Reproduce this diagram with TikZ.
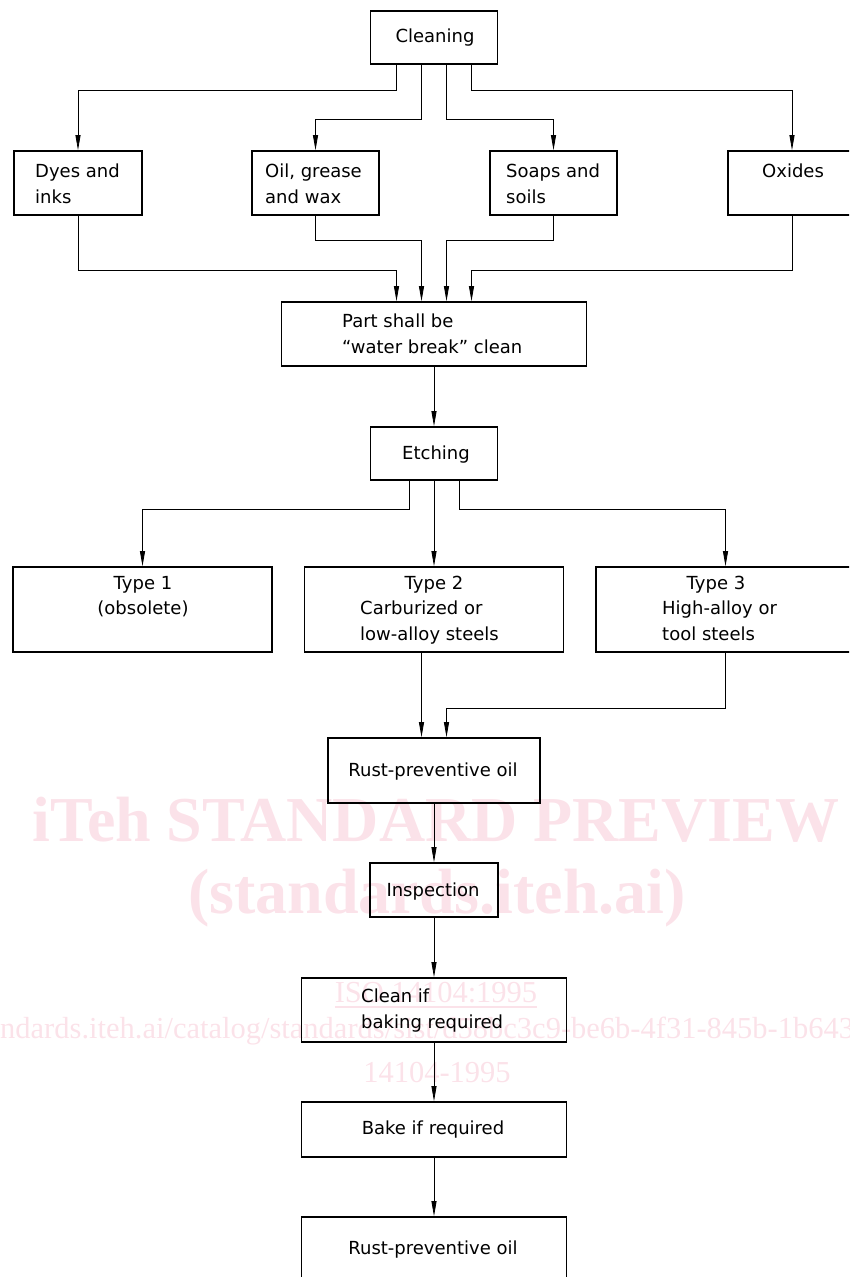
\documentclass[tikz,border=0pt]{standalone}
\usepackage{fontspec}
\setmainfont{DejaVu Sans}
\newfontfamily\wmfont{Liberation Serif}
\usetikzlibrary{arrows.meta}
\definecolor{wm}{RGB}{251,226,233}
\begin{document}
\begin{tikzpicture}[x=1pt,y=-1pt,
  box/.style={draw, line width=1.6pt, inner sep=0pt},
  lbl/.style={inner sep=0pt, font=\fontsize{18}{22}\selectfont},
  arr/.style={draw, line width=0.8pt, -{Triangle[length=15pt,width=5pt]}},
  wmbig/.style={inner sep=0pt, text=wm, font=\wmfont\bfseries\fontsize{64}{70}\selectfont},
  wmsmall/.style={inner sep=0pt, text=wm, font=\wmfont\fontsize{30.5}{34}\selectfont}]
\clip (0,0) rectangle (849,1277);
% watermark
\node[wmbig, anchor=base] (wm1) at (436,841) {iTeh STANDARD PREVIEW};
\node[wmbig, anchor=base] (wm2) at (437,913) {(standards.iteh.ai)};
\node[wmsmall, anchor=base] (wm3) at (436,1002) {ISO 14104:1995};
\draw[wm, line width=1.2pt] (wm3.west |- 0,1007) -- (wm3.east |- 0,1007);
\node[wmsmall, anchor=base west] (wm4) at (0,1038) {ndards.iteh.ai/catalog/standards/sist/d58bc3c9-be6b-4f31-845b-1b643};
\node[wmsmall, anchor=base] (wm5) at (437,1082) {14104-1995};
% boxes
\node[box, minimum width=127pt, minimum height=53pt] (clean) at (434,37.5) {};
\node[box, minimum width=128pt, minimum height=64pt] (dyes) at (78,183) {};
\node[box, minimum width=127pt, minimum height=64pt] (oil) at (315.5,183) {};
\node[box, minimum width=127pt, minimum height=64pt] (soaps) at (553.5,183) {};
\node[box, minimum width=128pt, minimum height=64pt] (oxides) at (792,183) {};
\node[box, minimum width=305pt, minimum height=64pt] (part) at (434,334) {};
\node[box, minimum width=127pt, minimum height=53pt] (etch) at (434,453.5) {};
\node[box, minimum width=259pt, minimum height=85pt] (type1) at (142.5,609.5) {};
\node[box, minimum width=259pt, minimum height=85pt] (type2) at (434,609.5) {};
\node[box, minimum width=259pt, minimum height=85pt] (type3) at (725.5,609.5) {};
\node[box, minimum width=212pt, minimum height=65pt] (rust) at (434,770.5) {};
\node[box, minimum width=128pt, minimum height=54pt] (insp) at (434,890) {};
\node[box, minimum width=265pt, minimum height=64pt] (cleanif) at (434,1010) {};
\node[box, minimum width=265pt, minimum height=55pt] (bake) at (434,1129.5) {};
\node[box, minimum width=265pt, minimum height=65pt] (rust2) at (434,1249.5) {};
% labels
\node[lbl, anchor=base] (tclean) at (435,42) {Cleaning};
\node[lbl, anchor=base west] (tdyes1) at (35,177) {Dyes and};
\node[lbl, anchor=base west] (tdyes2) at (35,203) {inks};
\node[lbl, anchor=base west] (toil1) at (265,177) {Oil, grease};
\node[lbl, anchor=base west] (toil2) at (265,203) {and wax};
\node[lbl, anchor=base west] (tsoap1) at (506,177) {Soaps and};
\node[lbl, anchor=base west] (tsoap2) at (506,203) {soils};
\node[lbl, anchor=base west] (tox) at (762,177) {Oxides};
\node[lbl, anchor=base west] (tpart1) at (342,327) {Part shall be};
\node[lbl, anchor=base west] (tpart2) at (342,353) {“water break” clean};
\node[lbl, anchor=base] (tetch) at (436,459) {Etching};
\node[lbl, anchor=base] (tt11) at (143,589) {Type 1};
\node[lbl, anchor=base] (tt12) at (143,614) {(obsolete)};
\node[lbl, anchor=base] (tt21) at (434,589) {Type 2};
\node[lbl, anchor=base west] (tt22) at (360,614) {Carburized or};
\node[lbl, anchor=base west] (tt23) at (360,640) {low-alloy steels};
\node[lbl, anchor=base] (tt31) at (716,589) {Type 3};
\node[lbl, anchor=base west] (tt32) at (662,614) {High-alloy or};
\node[lbl, anchor=base west] (tt33) at (662,640) {tool steels};
\node[lbl, anchor=base] (trust) at (433,776) {Rust-preventive oil};
\node[lbl, anchor=base] (tinsp) at (433,896) {Inspection};
\node[lbl, anchor=base west] (tci1) at (361,1002) {Clean if};
\node[lbl, anchor=base west] (tci2) at (361,1028) {baking required};
\node[lbl, anchor=base] (tbake) at (433,1134) {Bake if required};
\node[lbl, anchor=base] (trust2) at (433,1254) {Rust-preventive oil};
% connectors
\draw[arr] ([xshift=-37.5pt]clean.south) -- ++(0,26) -| (dyes.north);
\draw[arr] ([xshift=-12.5pt]clean.south) -- ++(0,55) -| (oil.north);
\draw[arr] ([xshift=12.5pt]clean.south) -- ++(0,55) -| (soaps.north);
\draw[arr] ([xshift=37.5pt]clean.south) -- ++(0,26) -| (oxides.north);
\draw[arr] (dyes.south) -- ++(0,55) -| ([xshift=-37.5pt]part.north);
\draw[arr] (oil.south) -- ++(0,25) -| ([xshift=-12.5pt]part.north);
\draw[arr] (soaps.south) -- ++(0,25) -| ([xshift=12.5pt]part.north);
\draw[arr] (oxides.south) -- ++(0,55) -| ([xshift=37.5pt]part.north);
\draw[arr] (part.south) -- (etch.north);
\draw[arr] ([xshift=-25pt]etch.south) -- ++(0,29) -| (type1.north);
\draw[arr] (etch.south) -- (type2.north);
\draw[arr] ([xshift=25pt]etch.south) -- ++(0,29) -| (type3.north);
\coordinate (r1) at ([xshift=-12.5pt]rust.north);
\draw[arr] (r1 |- type2.south) -- (r1);
\draw[arr] (type3.south) -- ++(0,56) -| ([xshift=12.5pt]rust.north);
\draw[arr] (rust.south) -- (insp.north);
\draw[arr] (insp.south) -- (cleanif.north);
\draw[arr] (cleanif.south) -- (bake.north);
\draw[arr] (bake.south) -- (rust2.north);
\end{tikzpicture}
\end{document}
